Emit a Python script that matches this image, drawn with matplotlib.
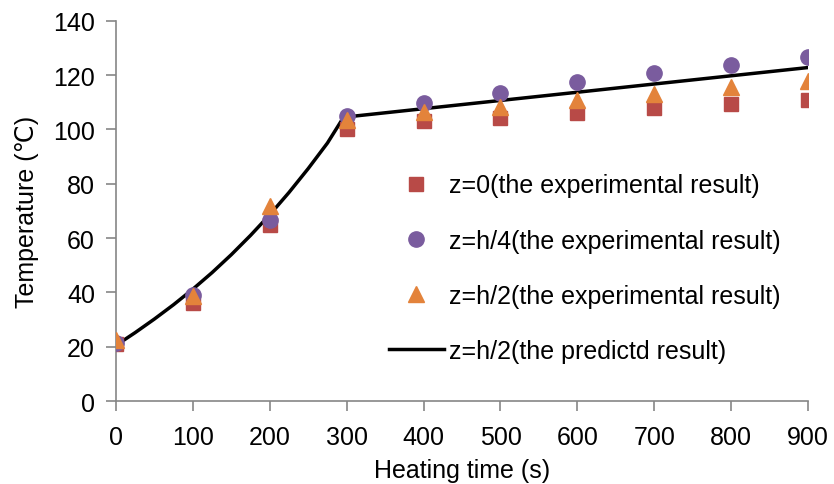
import matplotlib
matplotlib.use("Agg")
import matplotlib.pyplot as plt

plt.rcParams['font.family'] = ['Liberation Sans', 'DejaVu Sans']

time = [0, 100, 200, 300, 400, 500, 600, 700, 800, 900]
z0 = [21, 36, 65, 100, 103.3, 104.2, 106, 107.8, 109.4, 110.9]
zh4 = [21.5, 39, 66.5, 105, 109.7, 113.4, 117.4, 120.9, 123.8, 126.5]
zh2 = [22.5, 38.5, 72, 103.5, 106.4, 108.4, 110.9, 112.9, 115.6, 118]

pred_t = [0, 25, 50, 75, 100, 125, 150, 175, 200, 225, 250, 275, 296, 900]
pred_T = [20.5, 25.2, 30.2, 35.5, 41.2, 47.3, 53.9, 61.0, 68.6, 76.8, 85.6, 95.0, 104.5, 122.8]

fig = plt.figure(figsize=(8.34, 4.85), dpi=100)
ax = fig.add_axes([0.139, 0.171, 0.83, 0.784])

gray = '#868686'
ax.plot(time, z0, 's', color='#B84A47', markersize=10, label='z=0(the experimental result)', zorder=3)
ax.plot(time, zh4, 'o', color='#7A5C9E', markersize=11, label='z=h/4(the experimental result)', zorder=3)
ax.plot(time, zh2, '^', color='#E3833B', markersize=11, label='z=h/2(the experimental result)', zorder=4)
ax.plot(pred_t, pred_T, '-', color='black', linewidth=2.5, label='z=h/2(the predictd result)', zorder=2)

ax.set_xlim(0, 900)
ax.set_ylim(0, 140)
ax.set_xticks(time)
ax.set_yticks(range(0, 141, 20))
for s in ['top', 'right']:
    ax.spines[s].set_visible(False)
for s in ['left', 'bottom']:
    ax.spines[s].set_color(gray)
    ax.spines[s].set_linewidth(1.2)
ax.tick_params(axis='both', direction='out', color=gray, length=7, width=1.2, labelsize=18)
ax.tick_params(axis='x', pad=10)
ax.tick_params(axis='y', pad=8)
ax.set_xlabel('Heating time (s)', fontsize=18, labelpad=7)
ax.set_ylabel('Temperature (\u2103)', fontsize=18, labelpad=10)

ax.legend(loc='upper left', bbox_to_anchor=(0.38, 0.625), frameon=False, fontsize=18,
          handlelength=2.2, handletextpad=0.2, labelspacing=1.25, borderaxespad=0)

fig.savefig('out.png', dpi=100)
